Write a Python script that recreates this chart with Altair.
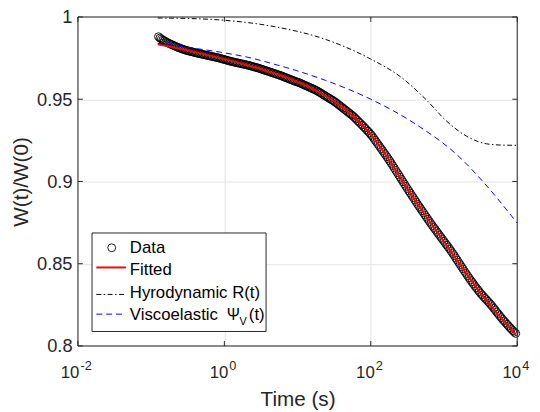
import altair as alt
import pandas as pd

# ---------------- data ----------------
# measured data: log10 of time (s) and W(t)/W(0)
data_log10_t = [
    -0.90, -0.88, -0.86, -0.84, -0.82, -0.80, -0.78, -0.76, -0.74, -0.72,
    -0.70, -0.68, -0.66, -0.64, -0.62, -0.60, -0.58, -0.56, -0.54, -0.52,
    -0.50, -0.48, -0.46, -0.44, -0.42, -0.40, -0.38, -0.36, -0.34, -0.32,
    -0.30, -0.28, -0.26, -0.24, -0.22, -0.20, -0.18, -0.16, -0.14, -0.12,
    -0.10, -0.08, -0.06, -0.04, -0.02, 0.00, 0.02, 0.04, 0.06, 0.08,
    0.10, 0.12, 0.14, 0.16, 0.18, 0.20, 0.22, 0.24, 0.26, 0.28,
    0.30, 0.32, 0.34, 0.36, 0.38, 0.40, 0.42, 0.44, 0.46, 0.48,
    0.50, 0.52, 0.54, 0.56, 0.58, 0.60, 0.62, 0.64, 0.66, 0.68,
    0.70, 0.72, 0.74, 0.76, 0.78, 0.80, 0.82, 0.84, 0.86, 0.88,
    0.90, 0.92, 0.94, 0.96, 0.98, 1.00, 1.02, 1.04, 1.06, 1.08,
    1.10, 1.12, 1.14, 1.16, 1.18, 1.20, 1.22, 1.24, 1.26, 1.28,
    1.30, 1.32, 1.34, 1.36, 1.38, 1.40, 1.42, 1.44, 1.46, 1.48,
    1.50, 1.52, 1.54, 1.56, 1.58, 1.60, 1.62, 1.64, 1.66, 1.68,
    1.70, 1.72, 1.74, 1.76, 1.78, 1.80, 1.82, 1.84, 1.86, 1.88,
    1.90, 1.92, 1.94, 1.96, 1.98, 2.00, 2.02, 2.04, 2.06, 2.08,
    2.10, 2.12, 2.14, 2.16, 2.18, 2.20, 2.22, 2.24, 2.26, 2.28,
    2.30, 2.32, 2.34, 2.36, 2.38, 2.40, 2.42, 2.44, 2.46, 2.48,
    2.50, 2.52, 2.54, 2.56, 2.58, 2.60, 2.62, 2.64, 2.66, 2.68,
    2.70, 2.72, 2.74, 2.76, 2.78, 2.80, 2.82, 2.84, 2.86, 2.88,
    2.90, 2.92, 2.94, 2.96, 2.98, 3.00, 3.02, 3.04, 3.06, 3.08,
    3.10, 3.12, 3.14, 3.16, 3.18, 3.20, 3.22, 3.24, 3.26, 3.28,
    3.30, 3.32, 3.34, 3.36, 3.38, 3.40, 3.42, 3.44, 3.46, 3.48,
    3.50, 3.52, 3.54, 3.56, 3.58, 3.60, 3.62, 3.64, 3.66, 3.68,
    3.70, 3.72, 3.74, 3.76, 3.78, 3.80, 3.82, 3.84, 3.86, 3.88,
    3.90, 3.92, 3.94, 3.96, 3.98,
]
data_w = [
    0.9880, 0.9872, 0.9866, 0.9860, 0.9855, 0.9850, 0.9845, 0.9840, 0.9836, 0.9832,
    0.9828, 0.9824, 0.9820, 0.9816, 0.9813, 0.9809, 0.9806, 0.9803, 0.9800, 0.9797,
    0.9795, 0.9792, 0.9790, 0.9788, 0.9786, 0.9783, 0.9781, 0.9779, 0.9777, 0.9775,
    0.9773, 0.9771, 0.9769, 0.9767, 0.9765, 0.9763, 0.9761, 0.9759, 0.9757, 0.9755,
    0.9753, 0.9751, 0.9749, 0.9746, 0.9744, 0.9741, 0.9739, 0.9736, 0.9734, 0.9731,
    0.9729, 0.9727, 0.9725, 0.9723, 0.9721, 0.9719, 0.9717, 0.9715, 0.9713, 0.9711,
    0.9709, 0.9707, 0.9705, 0.9702, 0.9700, 0.9697, 0.9695, 0.9692, 0.9690, 0.9687,
    0.9684, 0.9681, 0.9678, 0.9675, 0.9672, 0.9669, 0.9666, 0.9663, 0.9660, 0.9657,
    0.9654, 0.9651, 0.9648, 0.9645, 0.9642, 0.9638, 0.9635, 0.9631, 0.9628, 0.9624,
    0.9621, 0.9617, 0.9614, 0.9610, 0.9607, 0.9604, 0.9601, 0.9597, 0.9593, 0.9589,
    0.9585, 0.9581, 0.9577, 0.9573, 0.9569, 0.9565, 0.9561, 0.9557, 0.9552, 0.9547,
    0.9542, 0.9537, 0.9531, 0.9525, 0.9520, 0.9514, 0.9509, 0.9504, 0.9498, 0.9493,
    0.9487, 0.9481, 0.9474, 0.9467, 0.9460, 0.9453, 0.9446, 0.9439, 0.9432, 0.9425,
    0.9418, 0.9411, 0.9404, 0.9396, 0.9388, 0.9379, 0.9370, 0.9361, 0.9352, 0.9343,
    0.9334, 0.9325, 0.9315, 0.9306, 0.9296, 0.9286, 0.9275, 0.9263, 0.9250, 0.9238,
    0.9225, 0.9213, 0.9200, 0.9188, 0.9175, 0.9163, 0.9150, 0.9137, 0.9124, 0.9110,
    0.9096, 0.9082, 0.9068, 0.9054, 0.9040, 0.9026, 0.9012, 0.8998, 0.8984, 0.8970,
    0.8956, 0.8942, 0.8929, 0.8915, 0.8902, 0.8888, 0.8875, 0.8861, 0.8848, 0.8835,
    0.8822, 0.8809, 0.8796, 0.8783, 0.8770, 0.8757, 0.8745, 0.8732, 0.8720, 0.8708,
    0.8696, 0.8684, 0.8672, 0.8660, 0.8648, 0.8636, 0.8624, 0.8612, 0.8600, 0.8588,
    0.8575, 0.8562, 0.8549, 0.8535, 0.8522, 0.8508, 0.8495, 0.8481, 0.8468, 0.8454,
    0.8441, 0.8428, 0.8415, 0.8402, 0.8390, 0.8378, 0.8366, 0.8354, 0.8343, 0.8331,
    0.8320, 0.8310, 0.8300, 0.8290, 0.8281, 0.8271, 0.8261, 0.8251, 0.8240, 0.8229,
    0.8218, 0.8206, 0.8195, 0.8184, 0.8173, 0.8162, 0.8152, 0.8142, 0.8132, 0.8122,
    0.8112, 0.8102, 0.8093, 0.8084, 0.8076,
]

# fitted curve
fit_log10_t = [-0.91, -0.75, -0.5, -0.25, 0.0, 0.25, 0.5, 0.75, 1.0, 1.25, 1.5,
               1.75, 2.0, 2.25, 2.5, 2.75, 3.0, 3.25, 3.5, 3.75, 3.98]
fit_w = [0.9834, 0.9820, 0.9796, 0.9771, 0.9744, 0.9715, 0.9683, 0.9647, 0.9605,
         0.9553, 0.9487, 0.9400, 0.9286, 0.9130, 0.8955, 0.8790, 0.8635, 0.8475,
         0.8320, 0.8185, 0.8068]

# hydrodynamic R(t)
hyd_log10_t = [-0.91, -0.5, 0.0, 0.7, 1.38, 2.0, 2.41, 2.75, 3.04, 3.31, 3.58, 3.8, 4.0]
hyd_w = [0.9994, 0.9991, 0.9980, 0.9940, 0.9864, 0.9744, 0.9635, 0.9500, 0.9365,
         0.9275, 0.9229, 0.9221, 0.9220]

# viscoelastic Psi_V(t)
vis_log10_t = [-0.91, -0.5, 0.0, 0.35, 0.705, 1.0, 1.378, 2.0, 2.59, 3.24, 3.53, 4.0]
vis_w = [0.9840, 0.9815, 0.9782, 0.9752, 0.9710, 0.9672, 0.9615, 0.9500, 0.9355,
         0.9136, 0.9000, 0.8747]

x_tick_values = [0.01, 1, 100, 10000]
x_tick_base = ["10", "10", "10", "10"]
x_tick_exp = ["-2", "0", "2", "4"]
y_tick_values = [0.8, 0.85, 0.9, 0.95, 1.0]

legend_labels = ["Data", "Fitted", "Hyrodynamic R(t)", "Viscoelastic"]

# ---------------- styling ----------------
W, H = 446, 334
FONT = "Liberation Sans"
AX = "#262626"
GRID = "#e3e3e3"

xs = alt.Scale(type="log", domain=[0.01, 10000], nice=False)
ys = alt.Scale(domain=[0.8, 1.0], nice=False, zero=False)

xaxis = alt.Axis(values=x_tick_values, labels=False, ticks=False, domain=False,
                 grid=True, gridColor=GRID, gridWidth=1,
                 title="Time (s)", titleFont=FONT, titleFontSize=21,
                 titleFontWeight="normal", titleColor=AX, titleY=60,
                 titleBaseline="alphabetic")
yaxis = alt.Axis(values=y_tick_values, format="~g", labelFont=FONT, labelFontSize=18.5,
                 labelColor=AX, labelPadding=6, labelFlush=False, labelOverlap=False,
                 ticks=False, domain=False, grid=True, gridColor=GRID, gridWidth=1,
                 title="W(t)/W(0)", titleFont=FONT, titleFontSize=21,
                 titleFontWeight="normal", titleColor=AX, titleX=-51, titleY=H / 2,
                 titleAngle=270, titleBaseline="alphabetic", titleAlign="center")


def X(f="t"):
    return alt.X(f"{f}:Q", scale=xs, axis=xaxis)


def Y(f="w"):
    return alt.Y(f"{f}:Q", scale=ys, axis=yaxis)


one = pd.DataFrame({"d": [0]})

data_df = pd.DataFrame({"t": [10 ** v for v in data_log10_t], "w": data_w})
fit_df = pd.DataFrame({"t": [10 ** v for v in fit_log10_t], "w": fit_w})
hyd_df = pd.DataFrame({"t": [10 ** v for v in hyd_log10_t], "w": hyd_w})
vis_df = pd.DataFrame({"t": [10 ** v for v in vis_log10_t], "w": vis_w})
xt_df = pd.DataFrame({"t": x_tick_values, "base": x_tick_base, "exp": x_tick_exp})
yt_df = pd.DataFrame({"w": y_tick_values})

pts = alt.Chart(data_df).mark_point(shape="circle", filled=False, color="black",
                                    strokeWidth=0.9, size=64, opacity=1).encode(x=X(), y=Y())
fit = alt.Chart(fit_df).mark_line(color="#ff0000", strokeWidth=2,
                                  interpolate="monotone").encode(x=X(), y=Y())
hyd = alt.Chart(hyd_df).mark_line(color="black", strokeWidth=1, strokeDash=[5, 2.5, 1.5, 2.5],
                                  interpolate="monotone").encode(x=X(), y=Y())
vis = alt.Chart(vis_df).mark_line(color="#0000ff", strokeWidth=1, strokeDash=[6, 4],
                                  interpolate="monotone").encode(x=X(), y=Y())

tick_style = dict(color=AX, strokeWidth=1)
xt_bot = alt.Chart(xt_df).mark_rule(**tick_style).encode(x=X(), y=alt.value(H), y2=alt.value(H - 5))
xt_top = alt.Chart(xt_df).mark_rule(**tick_style).encode(x=X(), y=alt.value(0), y2=alt.value(5))
yt_left = alt.Chart(yt_df).mark_rule(**tick_style).encode(y=Y(), x=alt.value(0), x2=alt.value(5))
yt_right = alt.Chart(yt_df).mark_rule(**tick_style).encode(y=Y(), x=alt.value(W - 5), x2=alt.value(W))

# x tick labels 10^n
neg = alt.datum.exp == "-2"
xl_base_neg = alt.Chart(xt_df).transform_filter(neg).mark_text(
    align="right", baseline="alphabetic", dx=1.5, font=FONT, fontSize=17, color=AX
).encode(x=X(), y=alt.value(367), text="base:N")
xl_exp_neg = alt.Chart(xt_df).transform_filter(neg).mark_text(
    align="left", baseline="alphabetic", dx=2.5, font=FONT, fontSize=13, color=AX
).encode(x=X(), y=alt.value(358), text="exp:N")
xl_base = alt.Chart(xt_df).transform_filter(~neg).mark_text(
    align="right", baseline="alphabetic", dx=4, font=FONT, fontSize=17, color=AX
).encode(x=X(), y=alt.value(367), text="base:N")
xl_exp = alt.Chart(xt_df).transform_filter(~neg).mark_text(
    align="left", baseline="alphabetic", dx=5, font=FONT, fontSize=13, color=AX
).encode(x=X(), y=alt.value(358), text="exp:N")

frame = alt.Chart(one).mark_rect(fillOpacity=0, stroke=AX, strokeWidth=1).encode(
    x=alt.value(0), x2=alt.value(W), y=alt.value(0), y2=alt.value(H))

# legend
leg_box = alt.Chart(one).mark_rect(fill="white", stroke=AX, strokeWidth=1).encode(
    x=alt.value(14.3), x2=alt.value(191), y=alt.value(219.3), y2=alt.value(319.3))
leg_circle = alt.Chart(one).mark_point(shape="circle", filled=False, color="black",
                                       strokeWidth=0.9, size=64, opacity=1).encode(
    x=alt.value(34.3), y=alt.value(234.3))
leg_red = alt.Chart(one).mark_rule(color="#ff0000", strokeWidth=2).encode(
    x=alt.value(18.7), x2=alt.value(48.7), y=alt.value(254.3))
leg_hyd = alt.Chart(one).mark_rule(color="black", strokeWidth=1, strokeDash=[5, 2.5, 1.5, 2.5]).encode(
    x=alt.value(18.7), x2=alt.value(48.7), y=alt.value(281.7))
leg_vis = alt.Chart(one).mark_rule(color="#0000ff", strokeWidth=1, strokeDash=[6, 4]).encode(
    x=alt.value(18.7), x2=alt.value(48.7), y=alt.value(301.7))

txt = dict(align="left", baseline="alphabetic", font=FONT, fontSize=17, color="black")
leg_texts = []
for label, yb in zip(legend_labels, [239.5, 262.2, 284.9, 307.6]):
    leg_texts.append(alt.Chart(one).mark_text(text=label, **txt).encode(
        x=alt.value(52.7), y=alt.value(yb)))
leg_psi = alt.Chart(one).mark_text(text="Ψ", align="left", baseline="alphabetic", font=FONT,
                                   fontSize=16, color="black").encode(x=alt.value(151), y=alt.value(307.6))
leg_sub = alt.Chart(one).mark_text(text="V", align="left", baseline="alphabetic", font=FONT,
                                   fontSize=11, color="black").encode(x=alt.value(164), y=alt.value(313))
leg_t = alt.Chart(one).mark_text(text="(t)", **txt).encode(x=alt.value(173.5), y=alt.value(307.6))

chart = alt.layer(
    pts, fit, hyd, vis,
    xt_bot, xt_top, yt_left, yt_right,
    xl_base_neg, xl_exp_neg, xl_base, xl_exp,
    frame,
    leg_box, leg_circle, leg_red, leg_hyd, leg_vis, *leg_texts, leg_psi, leg_sub, leg_t,
).properties(
    width=W, height=H,
    padding={"left": 71, "top": 6, "right": 15, "bottom": 68},
    autosize=alt.AutoSizeParams(type="none"),
    background="white",
).configure_view(stroke="transparent")

chart.save("out.html", embed_options={"renderer": "svg", "actions": False})
